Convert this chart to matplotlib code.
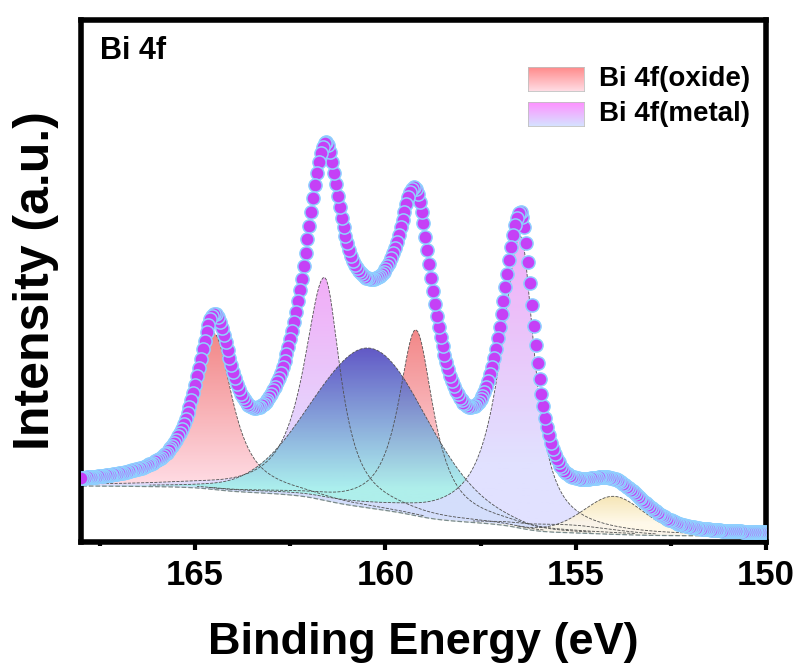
import numpy as np
import matplotlib.pyplot as plt
from matplotlib.colors import LinearSegmentedColormap

plt.rcParams['font.family'] = ['Liberation Sans', 'DejaVu Sans']
plt.rcParams['font.weight'] = 'bold'

# binding energy grid (eV)
energy = np.arange(150.0, 168.01, 0.05)

# fitted components:
# centre (eV), height, FWHM on low-BE side, FWHM on high-BE side, lorentz fraction
centres = [164.5, 161.6, 160.4, 159.2, 156.45, 155.3, 154.0]
heights = [156, 223, 160, 186, 292, 8, 38]
fwhm_lo = [1.15, 1.0, 3.6, 1.1, 0.9, 3.0, 1.9]
fwhm_hi = [1.15, 1.3, 3.6, 1.1, 1.25, 3.0, 1.9]
etas = [0.9, 0.9, 0.1, 0.9, 0.9, 0.2, 0.3]
# (top colour, bottom colour) of each gradient fill
tops = ['#f07272', '#f09ef6', '#5046c0', '#f07272', '#f0a0f6', '#8fdce8', '#f0d890']
bottoms = ['#ffd6e0', '#dcdcff', '#a6f2ec', '#ffd6e0', '#dcdcff', '#b0f0ec', '#fff8e6']
alphas = [0.85, 0.85, 0.9, 0.85, 0.85, 0.85, 0.85]
draw_order = [0, 1, 3, 2, 5, 4, 6]
bg_low, bg_high = 6, 56

legend_labels = ['Bi 4f(oxide)', 'Bi 4f(metal)']
legend_tops = ['#ff8a8a', '#ff90ff']
legend_bottoms = ['#ffdce4', '#d6e2ff']


def pvoigt(x, c, h, wl, wh, eta):
    w = np.where(x < c, wl, wh)
    g = np.exp(-4 * np.log(2) * ((x - c) / w) ** 2)
    l = 1 / (1 + (2 * (x - c) / w) ** 2)
    return h * (eta * l + (1 - eta) * g)


comps = [pvoigt(energy, *p) for p in zip(centres, heights, fwhm_lo, fwhm_hi, etas)]
signal = np.sum(comps, axis=0)
# Shirley type background
cum = np.cumsum(signal)
bg = bg_low + (bg_high - bg_low) * cum / cum[-1]
total = bg + signal

fig = plt.figure(figsize=(7.98, 6.64), dpi=100)
ax = fig.add_axes([81 / 798, 1 - 542 / 664, 685 / 798, 522 / 664])

grad = np.linspace(0, 1, 256).reshape(-1, 1)
for i in draw_order:
    top = bg + comps[i]
    poly = ax.fill_between(energy, bg, top, facecolor='none', edgecolor='none')
    cmap = LinearSegmentedColormap.from_list(
        'c%d' % i, [(0, bottoms[i]), (0.25, bottoms[i]), (1, tops[i])])
    im = ax.imshow(grad, extent=[energy.min(), energy.max(), bg.min(), top.max()],
                   aspect='auto', origin='lower', cmap=cmap, alpha=alphas[i], zorder=1)
    im.set_clip_path(poly.get_paths()[0], transform=ax.transData)
    edge = np.where(comps[i] > 1.5, top, np.nan)
    ax.plot(energy, edge, ls='--', lw=0.6, color='#505050', zorder=2)

ax.plot(energy, bg, ls='--', lw=0.9, color='#7a8a8a', zorder=2)
ax.plot(energy, total, 'o', ms=9.5, mfc='#c540f6', mec='#8fd0ff', mew=1.1, zorder=3)

ax.set_xlim(168, 150)
ax.set_ylim(0, 522)
ax.set_xticks([165, 160, 155, 150])
ax.set_xticks([167.5, 162.5, 157.5, 152.5], minor=True)
ax.set_yticks([])
ax.tick_params(axis='x', which='major', direction='out', length=6, width=3, labelsize=25, pad=6)
ax.tick_params(axis='x', which='minor', direction='out', length=3, width=3)
for s in ax.spines.values():
    s.set_linewidth(4)
for lab in ax.get_xticklabels():
    lab.set_fontweight('bold')

ax.set_xlabel('Binding Energy (eV)', fontsize=32.5, fontweight='bold', labelpad=22)
ax.set_ylabel('Intensity (a.u.)', fontsize=36, fontweight='bold', labelpad=16)
ax.text(0.028, 0.94, 'Bi 4f', transform=ax.transAxes, fontsize=22, fontweight='bold',
        va='center', ha='left')

# gradient legend
for k, (lab, t, b) in enumerate(zip(legend_labels, legend_tops, legend_bottoms)):
    y_px = 67 + k * 35
    pax = fig.add_axes([528 / 798, 1 - (y_px + 24) / 664, 56 / 798, 24 / 664])
    pax.imshow(grad, aspect='auto', origin='lower',
               cmap=LinearSegmentedColormap.from_list('l%d' % k, [b, t]))
    pax.set_xticks([])
    pax.set_yticks([])
    for s in pax.spines.values():
        s.set_linewidth(0.6)
        s.set_color('#c0c0c0')
    fig.text(599 / 798, 1 - (y_px + 12) / 664, lab, fontsize=20, fontweight='bold',
             va='center', ha='left')

fig.savefig('out.png', dpi=100)
